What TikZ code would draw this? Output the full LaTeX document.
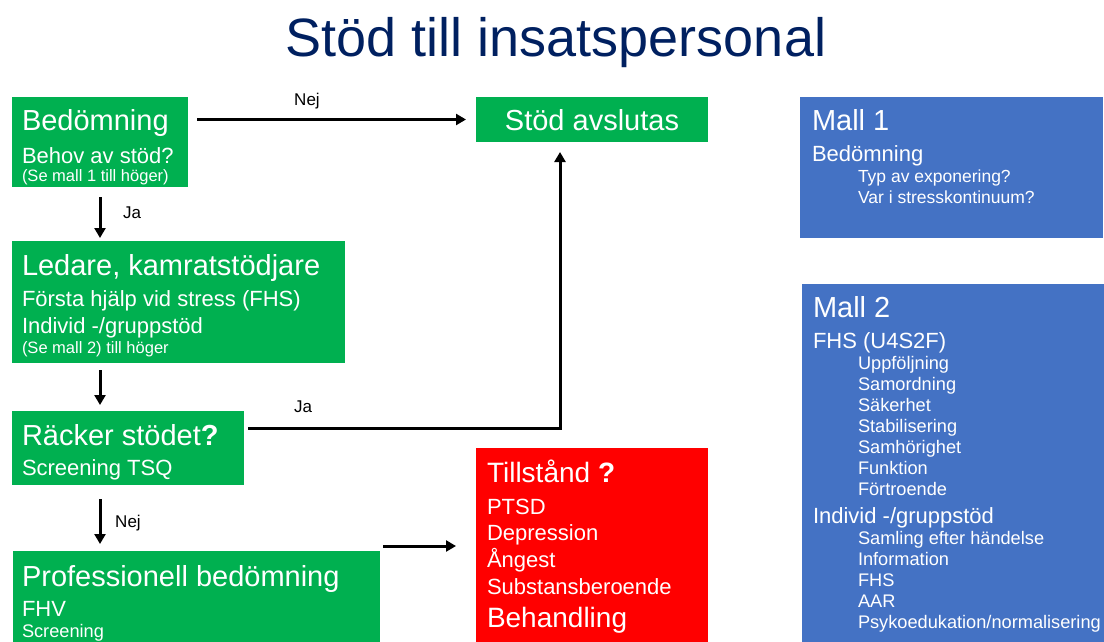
\documentclass[tikz,border=0pt]{standalone}
\usepackage{fontspec}
\setmainfont{Liberation Sans}
\usetikzlibrary{arrows.meta}
\definecolor{grn}{RGB}{0,176,80}
\definecolor{redb}{RGB}{255,0,0}
\definecolor{blu}{RGB}{68,114,196}
\definecolor{navy}{RGB}{0,32,96}
\newcommand{\fsz}[1]{\fontsize{#1}{#1}\selectfont}
\begin{document}
\begin{tikzpicture}[x=1pt,y=-1pt,
  box/.style={anchor=north west, inner sep=0pt, outer sep=0pt, draw=none},
  gbox/.style={box, fill=grn},
  rbox/.style={box, fill=redb},
  bbox/.style={box, fill=blu},
  tx/.style={anchor=base west, inner sep=0pt, outer sep=0pt, text=white},
  big/.style={tx, font=\fsz{29}},
  mid/.style={tx, font=\fsz{22}},
  sml/.style={tx, font=\fsz{16.5}},
  itm/.style={tx, font=\fsz{18.2}},
  lbl/.style={anchor=base, inner sep=0pt, text=black, font=\fsz{17}},
  arr/.style={line width=3pt, -{Triangle[length=10pt,width=11pt]}}
]
\useasboundingbox (0,0) rectangle (1104,642);

% title
\node[anchor=base, inner sep=0pt, text=navy, font=\fsz{54}] (title) at (556,57) {Stöd till insatspersonal};

% boxes
\node[gbox, minimum width=176pt, minimum height=90pt] (bed) at (12,97) {};
\node[gbox, minimum width=333pt, minimum height=122pt] (led) at (12,241) {};
\node[gbox, minimum width=232pt, minimum height=74pt] (rack) at (12,411) {};
\node[gbox, minimum width=367pt, minimum height=91pt] (prof) at (13,551) {};
\node[gbox, minimum width=232pt, minimum height=45pt] (avsl) at (476,97) {};
\node[rbox, minimum width=232pt, minimum height=194pt] (till) at (476,448) {};
\node[bbox, minimum width=303pt, minimum height=141pt] (mall1) at (800,97) {};
\node[bbox, minimum width=302pt, minimum height=358pt] (mall2) at (802,284) {};

% texts: Bedömning
\node[big] (t1) at (22,130) {Bedömning};
\node[mid] (t2) at (22,163) {Behov av stöd?};
\node[sml] (t3) at (22,181) {(Se mall 1 till höger)};
% Ledare
\node[big] (t4) at (22,275) {Ledare, kamratstödjare};
\node[mid] (t5) at (22,306) {Första hjälp vid stress (FHS)};
\node[mid] (t6) at (22,333) {Individ -/gruppstöd};
\node[sml] (t7) at (22,353) {(Se mall 2) till höger};
% Räcker
\node[big] (t8) at (22,445) {Räcker stödet\textbf{?}};
\node[mid] (t9) at (22,475) {Screening TSQ};
% Professionell
\node[big] (t10) at (22,586) {Professionell bedömning};
\node[mid] (t11) at (22,616) {FHV};
\node[itm] (t12) at (22,637) {Screening};
% Stöd avslutas
\node[anchor=base, inner sep=0pt, text=white, font=\fsz{29}] (t13) at (592,131) {Stöd avslutas};
% Tillstånd
\node[tx, font=\fsz{28}] (t14) at (487,482) {Tillstånd \textbf{?}};
\node[mid] (t15) at (487,514) {PTSD};
\node[mid] (t16) at (487,540) {Depression};
\node[mid] (t17) at (487,567) {Ångest};
\node[mid] (t18) at (487,594) {Substansberoende};
\node[tx, font=\fsz{28}] (t19) at (487,627) {Behandling};
% Mall 1
\node[big] (m1) at (812,130) {Mall 1};
\node[mid] (m2) at (812,161) {Bedömning};
\node[tx, font=\fsz{17.5}] (m3) at (858,182) {Typ av exponering?};
\node[tx, font=\fsz{17.5}] (m4) at (858,203) {Var i stresskontinuum?};
% Mall 2
\node[big] (n1) at (813,317) {Mall 2};
\node[mid] (n2) at (813,348) {FHS (U4S2F)};
\node[itm] (n3) at (858,369) {Uppföljning};
\node[itm] (n4) at (858,390) {Samordning};
\node[itm] (n5) at (858,411) {Säkerhet};
\node[itm] (n6) at (858,432) {Stabilisering};
\node[itm] (n7) at (858,453) {Samhörighet};
\node[itm] (n8) at (858,474) {Funktion};
\node[itm] (n9) at (858,495) {Förtroende};
\node[mid] (n10) at (813,523) {Individ -/gruppstöd};
\node[itm] (n11) at (858,544) {Samling efter händelse};
\node[itm] (n12) at (858,565) {Information};
\node[itm] (n13) at (858,586) {FHS};
\node[itm] (n14) at (858,607) {AAR};
\node[itm] (n15) at (858,628) {Psykoedukation/normalisering};

% connectors
\draw[arr] ([xshift=9pt]bed.east |- avsl.west) -- ([xshift=-10pt]avsl.west);
\node[lbl] (l1) at (307,106) {Nej};

\draw[arr] ([yshift=-10pt]bed.south) -- ([yshift=3pt]bed.south |- led.north);
\node[lbl] (l2) at (132,218) {Ja};

\draw[arr] ([yshift=-7pt]bed.south |- led.south) -- ([yshift=6pt]bed.south |- rack.north);

\draw[arr] ([yshift=-14pt]bed.south |- rack.south) -- ([yshift=7pt]bed.south |- prof.north);
\node[lbl] (l3) at (128,527) {Nej};

\coordinate (pe) at ([shift={(3pt,5pt)}]prof.north east);
\draw[arr, shorten >=20pt] (pe) -- (pe -| till.west);

\coordinate (rj) at ([shift={(4pt,-17pt)}]rack.north east);
\coordinate (aj) at ([shift={(-32pt,-10pt)}]avsl.south);
\draw[arr] (rj) -| (aj);
\node[lbl] (l4) at (303,412) {Ja};
\end{tikzpicture}
\end{document}
